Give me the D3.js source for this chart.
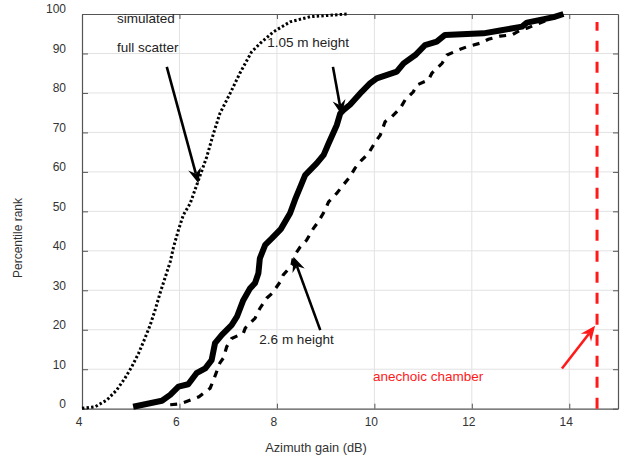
<!DOCTYPE html>
<html>
<head>
<meta charset="utf-8">
<script src="https://cdn.jsdelivr.net/npm/d3@7"></script>
<style>
  body { margin: 0; background: #fff; }
  svg { font-family: "Liberation Sans", Arial, sans-serif; }
  .axis path, .axis line { stroke: #555; }
  .axis text { fill: #333; font-size: 12px; }
</style>
</head>
<body>
<div id="chart"></div>
<script>
// simulated full scatter (dotted)
var simGain = [4.00, 4.27, 4.51, 4.71, 4.88, 5.02, 5.16, 5.29, 5.40, 5.50, 5.60, 5.70, 5.81, 5.88, 5.98, 6.08, 6.22, 6.39, 6.56, 6.70, 6.83, 7.04, 7.24, 7.48, 7.66, 7.93, 8.27, 8.68, 9.44];
var simRank = [0.1, 0.5, 2.2, 4.7, 7.7, 10.6, 14.0, 17.8, 21.2, 25.0, 29.2, 33.0, 37.2, 41.0, 45.3, 49.1, 52.0, 57.9, 63.8, 69.8, 74.8, 79.9, 85.0, 90.4, 92.6, 95.5, 98.0, 99.3, 100];

// 1.05 m height (thick solid)
var lowGain = [5.05, 5.64, 5.81, 5.98, 6.18, 6.35, 6.53, 6.66, 6.73, 6.87, 7.07, 7.18, 7.31, 7.45, 7.55, 7.62, 7.65, 7.76, 7.90, 8.08, 8.27, 8.37, 8.51, 8.58, 8.82, 8.96, 9.06, 9.23, 9.30, 9.37, 9.50, 9.74, 9.91, 10.05, 10.46, 10.60, 10.84, 11.04, 11.28, 11.45, 12.24, 12.58, 13.03, 13.13, 13.68, 13.88];
var lowRank = [0.5, 2.0, 3.5, 5.6, 6.2, 9.0, 10.2, 12.3, 16.6, 18.7, 21.2, 23.3, 27.5, 30.5, 31.8, 34.3, 38.1, 41.5, 43.2, 45.5, 49.5, 52.9, 57.1, 59.2, 62.2, 64.3, 67.2, 71.9, 74.8, 75.7, 77.0, 80.3, 82.4, 83.7, 85.4, 87.5, 89.6, 92.1, 93.0, 94.7, 95.1, 95.8, 96.8, 97.8, 99.2, 100];

// 2.6 m height (dashed)
var highGain = [5.81, 6.00, 6.23, 6.40, 6.63, 6.70, 6.83, 6.90, 6.97, 7.07, 7.31, 7.35, 7.55, 7.65, 7.79, 7.90, 8.07, 8.13, 8.31, 8.34, 8.48, 8.61, 8.75, 8.85, 8.99, 9.06, 9.23, 9.33, 9.50, 9.60, 9.74, 9.88, 10.02, 10.12, 10.22, 10.36, 10.53, 10.63, 10.80, 10.87, 11.11, 11.18, 11.39, 11.49, 11.73, 11.90, 12.17, 12.34, 12.58, 12.82, 12.99, 13.13, 13.50, 13.80];
var highRank = [1.0, 1.2, 2.2, 3.0, 5.2, 7.3, 11.6, 12.8, 15.7, 17.8, 19.1, 20.4, 22.9, 25.4, 28.0, 29.2, 32.2, 33.9, 36.4, 38.5, 41.0, 42.7, 45.7, 47.4, 50.3, 52.4, 54.6, 56.2, 58.8, 60.9, 63.0, 64.7, 67.6, 69.3, 72.7, 74.0, 76.1, 78.2, 80.3, 82.0, 83.3, 85.0, 87.5, 89.6, 90.9, 91.7, 92.6, 93.6, 94.4, 94.7, 95.9, 96.4, 98.2, 99.6];

// anechoic chamber reference gain
var anechoicGain = 14.57;
var anechoicRank = [0, 98];

var xTicks = [4, 6, 8, 10, 12, 14];
var yTicks = [0, 10, 20, 30, 40, 50, 60, 70, 80, 90, 100];

// annotations: text and arrows in data units
var labels = [
  {text: "simulated",        x: 4.72, y: 97.6, color: "#222"},
  {text: "full scatter",     x: 4.72, y: 90.4, color: "#222"},
  {text: "1.05 m height",    x: 7.80, y: 91.6, color: "#222"},
  {text: "2.6 m height",     x: 7.64, y: 16.4, color: "#222"},
  {text: "anechoic chamber", x: 9.97, y: 7.0,  color: "#ff1a1a"}
];
var arrows = [
  {x1: 5.74, y1: 86.6, x2: 6.39, y2: 57.1, color: "#000"},
  {x1: 9.15, y1: 86.6, x2: 9.33, y2: 74.4, color: "#000"},
  {x1: 8.89, y1: 19.9, x2: 8.34, y2: 38.5, color: "#000"},
  {x1: 13.85, y1: 10.2, x2: 14.53, y2: 21.0, color: "#ff1a1a"}
];

var margin = {top: 14, left: 82, right: 8, bottom: 47.3},
    width  = 626 - margin.left - margin.right,
    height = 456 - margin.top  - margin.bottom;

var x = d3.scaleLinear().domain([4, 15]).range([0, width]),
    y = d3.scaleLinear().domain([0, 100]).range([height, 0]);

var svg = d3.select("#chart").append("svg")
    .attr("width", 626)
    .attr("height", 456);

var g = svg.append("g").attr("transform", "translate(" + margin.left + "," + margin.top + ")");

// grid
g.append("g").selectAll("line")
  .data(xTicks.filter(function(d) { return d > 4; }))
  .enter().append("line")
    .attr("x1", function(d) { return x(d); }).attr("x2", function(d) { return x(d); })
    .attr("y1", 0).attr("y2", height)
    .attr("stroke", "#e2e2e2");
g.append("g").selectAll("line")
  .data(yTicks.filter(function(d) { return d > 0 && d < 100; }))
  .enter().append("line")
    .attr("x1", 0).attr("x2", width)
    .attr("y1", function(d) { return y(d); }).attr("y2", function(d) { return y(d); })
    .attr("stroke", "#e2e2e2");

// axes (ticks inside the box, like matlab)
var xb = g.append("g")
  .attr("class", "axis")
  .attr("transform", "translate(0," + height + ")")
  .call(d3.axisBottom(x).tickValues(xTicks).tickSize(-5).tickSizeOuter(0));
xb.selectAll("text").attr("y", 17.3).attr("dy", null).attr("x", -3.5);

var yl = g.append("g")
  .attr("class", "axis")
  .call(d3.axisLeft(y).tickValues(yTicks).tickSize(-6).tickSizeOuter(0));
yl.selectAll("text").attr("x", -16).attr("dy", null).attr("y", -1.2);

g.append("g")
  .attr("class", "axis")
  .call(d3.axisTop(x).tickValues(xTicks).tickSize(-5).tickSizeOuter(0).tickFormat(""));
g.append("g")
  .attr("class", "axis")
  .attr("transform", "translate(" + width + ",0)")
  .call(d3.axisRight(y).tickValues(yTicks).tickSize(-5).tickSizeOuter(0).tickFormat(""));

g.selectAll(".axis path").attr("stroke-width", 1.2);

// curves
var line = d3.line()
    .x(function(d) { return x(d[0]); })
    .y(function(d) { return y(d[1]); });

g.append("path")
  .datum(d3.zip(simGain, simRank))
  .attr("fill", "none")
  .attr("stroke", "#000")
  .attr("stroke-width", 3)
  .attr("stroke-dasharray", "2.4,2.2")
  .attr("d", line);

g.append("path")
  .datum(d3.zip(highGain, highRank))
  .attr("fill", "none")
  .attr("stroke", "#000")
  .attr("stroke-width", 3.2)
  .attr("stroke-dasharray", "7,7")
  .attr("d", line);

g.append("path")
  .datum(d3.zip(lowGain, lowRank))
  .attr("fill", "none")
  .attr("stroke", "#000")
  .attr("stroke-width", 6)
  .attr("stroke-linejoin", "round")
  .attr("d", line);

g.append("line")
  .attr("x1", x(anechoicGain)).attr("x2", x(anechoicGain))
  .attr("y1", y(anechoicRank[0])).attr("y2", y(anechoicRank[1]))
  .attr("stroke", "#ff1a1a")
  .attr("stroke-width", 3)
  .attr("stroke-dasharray", "11,10");

// annotations
g.selectAll(".lbl")
  .data(labels)
  .enter().append("text")
    .attr("class", "lbl")
    .attr("x", function(d) { return x(d.x); })
    .attr("y", function(d) { return y(d.y); })
    .attr("fill", function(d) { return d.color; })
    .style("font-size", "13.5px")
    .text(function(d) { return d.text; });

arrows.forEach(function(a) {
  var x1 = x(a.x1), y1 = y(a.y1), x2 = x(a.x2), y2 = y(a.y2);
  var ang = Math.atan2(y2 - y1, x2 - x1),
      len = 15, half = 6.5, notch = 10;
  var c = Math.cos(ang), s = Math.sin(ang);
  var bx = x2 - len * c, by = y2 - len * s;
  var nx = x2 - notch * c, ny = y2 - notch * s;
  g.append("line")
    .attr("x1", x1).attr("y1", y1).attr("x2", nx).attr("y2", ny)
    .attr("stroke", a.color).attr("stroke-width", 2.6);
  g.append("path")
    .attr("d", "M" + x2 + "," + y2 +
               "L" + (bx - half * s) + "," + (by + half * c) +
               "L" + nx + "," + ny +
               "L" + (bx + half * s) + "," + (by - half * c) + "Z")
    .attr("fill", a.color);
});

// axis titles
svg.append("text")
  .attr("x", 316).attr("y", 452)
  .attr("text-anchor", "middle")
  .attr("fill", "#333")
  .style("font-size", "12.8px")
  .text("Azimuth gain (dB)");

svg.append("text")
  .attr("transform", "translate(22,238) rotate(-90)")
  .attr("text-anchor", "middle")
  .attr("fill", "#333")
  .style("font-size", "12px")
  .text("Percentile rank");
</script>
</body>
</html>
